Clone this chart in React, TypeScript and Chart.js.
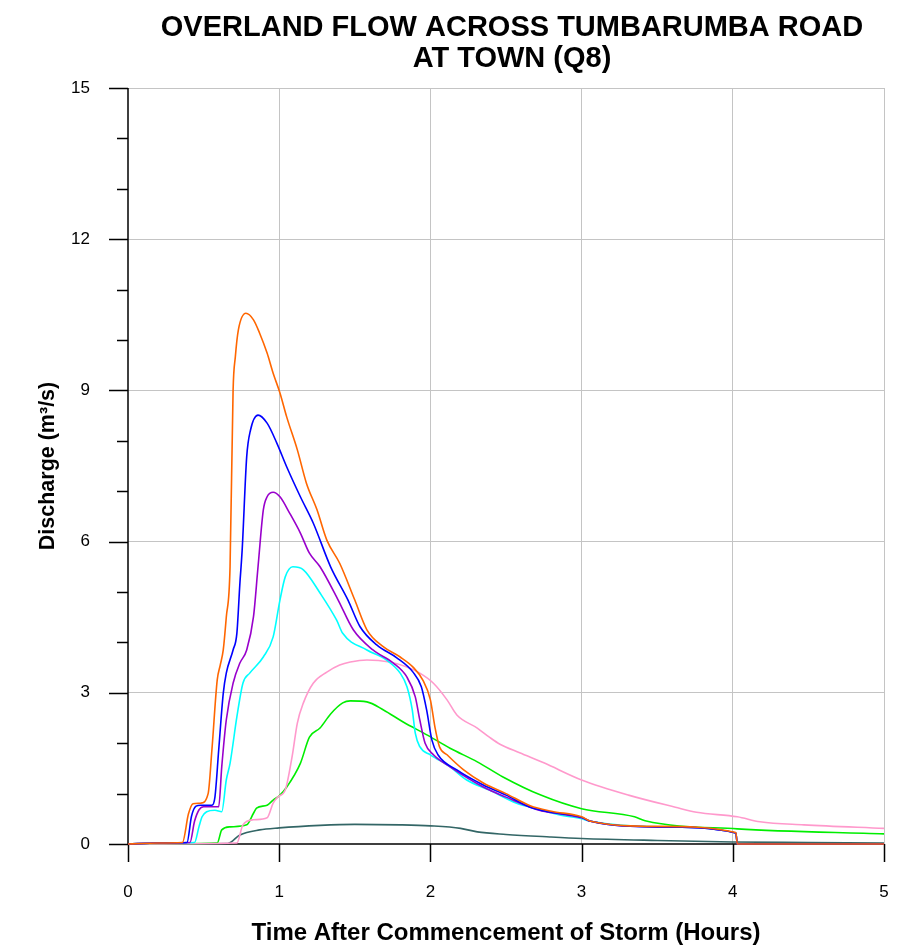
import React, { useEffect, useRef } from "react";
import { Chart, registerables } from "chart.js";

Chart.register(...registerables);

const FONT = "'Liberation Sans', Arial, sans-serif";

const titleLines = ["OVERLAND FLOW ACROSS TUMBARUMBA ROAD", "AT TOWN (Q8)"];
const xTitle = "Time After Commencement of Storm (Hours)";
const yTitle = "Discharge (m\u00B3/s)";

const xTicks = [0, 1, 2, 3, 4, 5];
const yMajorTicks = [0, 3, 6, 9, 12, 15];

const orangeT = [0, 0.2, 0.36, 0.4, 0.43, 0.48, 0.53, 0.555, 0.59, 0.61, 0.63, 0.65, 0.675, 0.695, 0.71, 0.73, 0.78, 0.83, 0.87, 0.92, 0.96, 1.005, 1.05, 1.12, 1.18, 1.25, 1.315, 1.4, 1.5, 1.58, 1.69, 1.8, 1.885, 1.95, 2.0, 2.03, 2.06, 2.11, 2.22, 2.35, 2.5, 2.66, 2.8, 3.0, 3.06, 3.5, 4.02, 4.03, 5];
const orangeQ = [0, 0.02, 0.03, 0.6, 0.8, 0.81, 1.0, 1.87, 3.25, 3.55, 3.85, 4.5, 5.5, 9.0, 9.67, 10.2, 10.53, 10.4, 10.14, 9.74, 9.34, 8.95, 8.47, 7.82, 7.16, 6.63, 6.03, 5.57, 4.84, 4.25, 3.91, 3.71, 3.51, 3.25, 2.86, 2.32, 1.93, 1.77, 1.47, 1.21, 1.0, 0.76, 0.65, 0.54, 0.45, 0.35, 0.23, 0, 0];

const blueT = [0, 0.2, 0.39, 0.42, 0.45, 0.48, 0.555, 0.575, 0.6, 0.63, 0.65, 0.695, 0.72, 0.74, 0.755, 0.785, 0.81, 0.86, 0.92, 0.985, 1.05, 1.14, 1.225, 1.34, 1.455, 1.535, 1.645, 1.78, 1.885, 1.94, 1.975, 2.01, 2.05, 2.175, 2.35, 2.5, 2.66, 2.8, 3.0, 3.06, 3.5, 4.02, 4.03, 5];
const blueQ = [0, 0.02, 0.03, 0.55, 0.75, 0.77, 0.77, 0.93, 1.87, 2.99, 3.39, 3.85, 4.18, 5.17, 5.83, 7.68, 8.21, 8.51, 8.35, 7.95, 7.48, 6.89, 6.37, 5.5, 4.84, 4.31, 3.95, 3.69, 3.41, 3.12, 2.66, 2.06, 1.77, 1.47, 1.17, 0.97, 0.73, 0.63, 0.53, 0.45, 0.34, 0.22, 0, 0];

const purpleT = [0, 0.2, 0.41, 0.44, 0.47, 0.5, 0.6, 0.62, 0.65, 0.695, 0.74, 0.785, 0.83, 0.86, 0.895, 0.92, 0.96, 1.005, 1.07, 1.14, 1.2, 1.27, 1.39, 1.49, 1.62, 1.755, 1.845, 1.9, 1.93, 1.965, 2.02, 2.13, 2.35, 2.5, 2.72, 2.85, 3.0, 3.06, 3.5, 4.02, 4.03, 5];
const purpleQ = [0, 0.02, 0.03, 0.45, 0.68, 0.74, 0.74, 1.53, 2.46, 3.19, 3.59, 3.85, 4.51, 5.5, 6.63, 6.89, 6.98, 6.89, 6.56, 6.17, 5.77, 5.5, 4.84, 4.25, 3.85, 3.59, 3.31, 2.92, 2.46, 2.0, 1.77, 1.53, 1.13, 0.93, 0.67, 0.6, 0.52, 0.45, 0.34, 0.22, 0, 0];

const cyanT = [0, 0.2, 0.44, 0.47, 0.49, 0.52, 0.575, 0.62, 0.65, 0.675, 0.72, 0.76, 0.805, 0.895, 0.96, 1.005, 1.04, 1.09, 1.16, 1.27, 1.38, 1.42, 1.58, 1.71, 1.8, 1.845, 1.88, 1.9, 1.93, 2.0, 2.13, 2.24, 2.39, 2.57, 2.72, 2.85, 3.0, 3.06, 3.5, 4.02, 4.03, 5];
const cyanQ = [0, 0.02, 0.03, 0.35, 0.54, 0.64, 0.67, 0.64, 1.27, 1.6, 2.52, 3.19, 3.39, 3.71, 4.11, 4.84, 5.3, 5.5, 5.44, 4.98, 4.44, 4.18, 3.85, 3.65, 3.39, 3.12, 2.66, 2.2, 1.93, 1.77, 1.53, 1.27, 1.07, 0.81, 0.69, 0.58, 0.5, 0.45, 0.34, 0.22, 0, 0];

const pinkT = [0, 0.72, 0.76, 0.83, 0.92, 0.96, 0.99, 1.04, 1.085, 1.12, 1.16, 1.225, 1.315, 1.4, 1.47, 1.58, 1.73, 1.845, 1.93, 2.02, 2.11, 2.175, 2.31, 2.39, 2.46, 2.59, 2.75, 3.0, 3.31, 3.62, 3.76, 4.03, 4.18, 4.47, 5];
const pinkQ = [0, 0.02, 0.38, 0.48, 0.52, 0.81, 0.93, 1.07, 1.73, 2.4, 2.8, 3.19, 3.41, 3.55, 3.61, 3.65, 3.61, 3.51, 3.39, 3.19, 2.86, 2.56, 2.3, 2.12, 1.98, 1.81, 1.61, 1.27, 0.97, 0.73, 0.63, 0.54, 0.44, 0.38, 0.31];

const greenT = [0, 0.59, 0.62, 0.675, 0.785, 0.83, 0.85, 0.92, 0.96, 1.005, 1.05, 1.14, 1.2, 1.27, 1.34, 1.42, 1.47, 1.58, 1.69, 1.82, 1.98, 2.13, 2.31, 2.48, 2.73, 3.0, 3.35, 3.42, 4.03, 5];
const greenQ = [0, 0.02, 0.28, 0.34, 0.38, 0.61, 0.71, 0.77, 0.87, 0.97, 1.13, 1.6, 2.12, 2.3, 2.58, 2.8, 2.84, 2.82, 2.66, 2.42, 2.16, 1.9, 1.63, 1.33, 0.97, 0.7, 0.54, 0.46, 0.3, 0.2];

const slateT = [0, 0.66, 0.74, 0.87, 1.0, 1.27, 1.5, 1.8, 2.0, 2.2, 2.31, 2.5, 2.79, 3.0, 3.5, 4.0, 4.5, 5];
const slateQ = [0, 0.01, 0.18, 0.28, 0.32, 0.37, 0.39, 0.38, 0.36, 0.31, 0.24, 0.19, 0.14, 0.11, 0.07, 0.04, 0.03, 0.02];

const seriesList = [
  { name: "orange", t: orangeT, q: orangeQ, color: "#ff6600" },
  { name: "blue", t: blueT, q: blueQ, color: "#0000ff" },
  { name: "purple", t: purpleT, q: purpleQ, color: "#9900cc" },
  { name: "cyan", t: cyanT, q: cyanQ, color: "#00ffff" },
  { name: "pink", t: pinkT, q: pinkQ, color: "#ff99cc" },
  { name: "green", t: greenT, q: greenQ, color: "#00ee00" },
  { name: "slate", t: slateT, q: slateQ, color: "#336666" },
];

const decor = {
  id: "decor",
  beforeDatasetsDraw(chart: any) {
    const { ctx, chartArea: a, scales } = chart;
    const x = scales.x;
    const y = scales.y;
    ctx.save();
    ctx.strokeStyle = "#000";
    ctx.lineWidth = 1.5;
    ctx.beginPath();
    ctx.moveTo(a.left, a.top);
    ctx.lineTo(a.left, a.bottom);
    ctx.moveTo(a.left, a.bottom);
    ctx.lineTo(a.right, a.bottom);
    for (let v = 0; v <= 15; v++) {
      const py = Math.round(y.getPixelForValue(v)) + 0.5;
      const len = yMajorTicks.includes(v) ? 19 : 11;
      ctx.moveTo(a.left - len, py);
      ctx.lineTo(a.left, py);
    }
    for (const v of xTicks) {
      const px = Math.round(x.getPixelForValue(v)) + 0.5;
      ctx.moveTo(px, a.bottom);
      ctx.lineTo(px, a.bottom + 18);
    }
    ctx.stroke();
    ctx.restore();
  },
  afterDraw(chart: any) {
    const { ctx, chartArea: a } = chart;
    ctx.save();
    ctx.fillStyle = "#000";
    ctx.textAlign = "center";
    ctx.textBaseline = "middle";
    ctx.font = `bold 29px ${FONT}`;
    ctx.fillText(titleLines[0], 504, 20);
    ctx.fillText(titleLines[1], 504, 51);
    ctx.font = `bold 24px ${FONT}`;
    ctx.fillText(xTitle, (a.left + a.right) / 2, 925);
    ctx.translate(40, (a.top + a.bottom) / 2);
    ctx.rotate(-Math.PI / 2);
    ctx.font = `bold 21.5px ${FONT}`;
    ctx.fillText(yTitle, 0, 0);
    ctx.restore();
  },
};

export default function App() {
  const ref = useRef<HTMLCanvasElement | null>(null);
  useEffect(() => {
    if (!ref.current) return;
    document.documentElement.style.overflow = "hidden";
    document.body.style.overflow = "hidden";
    const chart = new Chart(ref.current, {
      type: "line",
      data: {
        datasets: seriesList.map((s) => ({
          label: s.name,
          data: s.t.map((t, i) => ({ x: t, y: s.q[i] })),
          borderColor: s.color,
          backgroundColor: s.color,
          borderWidth: 1.6,
          pointRadius: 0,
          fill: false,
          tension: 0,
          cubicInterpolationMode: "monotone" as const,
          clip: 6,
        })),
      },
      options: {
        animation: false,
        responsive: true,
        maintainAspectRatio: false,
        layout: { padding: { top: 80, right: 24, left: 0, bottom: 0 } },
        plugins: {
          legend: { display: false },
          tooltip: { enabled: false },
          title: { display: false },
        },
        scales: {
          x: {
            type: "linear",
            min: 0,
            max: 5,
            afterFit: (s: any) => {
              s.height = 106;
            },
            border: { display: false },
            grid: {
              drawTicks: true,
              tickLength: 38,
              tickColor: "rgba(0,0,0,0)",
              lineWidth: 1,
              color: (c: any) => (c.tick && c.tick.value > 0 ? "#c4c4c4" : "rgba(0,0,0,0)"),
            },
            ticks: {
              stepSize: 1,
              padding: 0,
              color: "#000",
              font: { family: FONT, size: 17 },
              maxRotation: 0,
              callback: (v: any) => String(v),
            },
          },
          y: {
            type: "linear",
            min: 0,
            max: 15,
            afterFit: (s: any) => {
              s.width = 120;
            },
            border: { display: false },
            grid: {
              drawTicks: false,
              lineWidth: 1,
              color: (c: any) =>
                c.tick && c.tick.value > 0 && yMajorTicks.includes(c.tick.value) ? "#c4c4c4" : "rgba(0,0,0,0)",
            },
            ticks: {
              stepSize: 1,
              padding: 38,
              color: "#000",
              font: { family: FONT, size: 17 },
              callback: (v: any) => (yMajorTicks.includes(Number(v)) ? String(v) : ""),
            },
          },
        },
      },
      plugins: [decor],
    });
    return () => chart.destroy();
  }, []);
  return (
    <div style={{ width: 900, height: 942, position: "relative", background: "#fff", overflow: "hidden" }}>
      <canvas ref={ref} style={{ display: "block" }} />
    </div>
  );
}
